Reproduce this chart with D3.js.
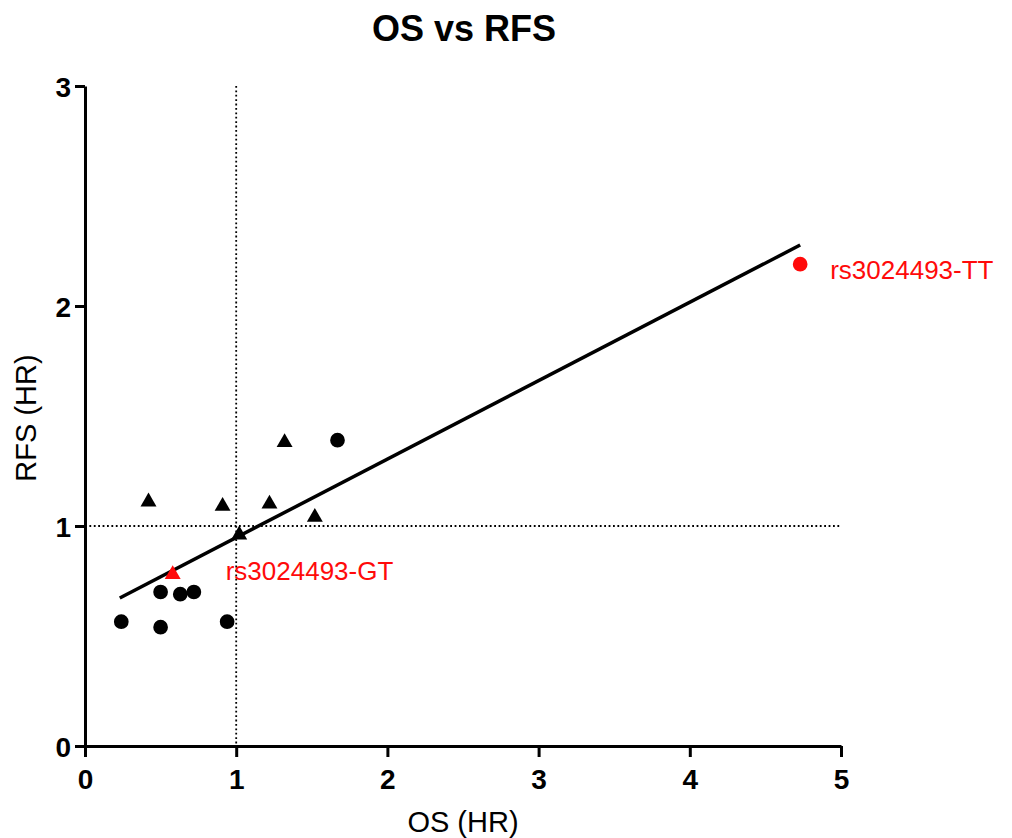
<!DOCTYPE html>
<html>
<head>
<meta charset="utf-8">
<script src="https://cdn.jsdelivr.net/npm/d3@7"></script>
<style>
  body { margin: 0; background: #fff; }
  text { font-family: Arial, "Liberation Sans", sans-serif; }
</style>
</head>
<body>
<div id="app"></div>
<script>
// circles (black)
const circleOS = [0.24, 0.50, 0.50, 0.63, 0.72, 0.94, 1.67];
const circleRFS = [0.565, 0.54, 0.70, 0.69, 0.70, 0.565, 1.39];
// triangles (black)
const triangleOS = [0.42, 0.91, 1.02, 1.22, 1.32, 1.52];
const triangleRFS = [1.11, 1.09, 0.96, 1.10, 1.38, 1.04];
// highlighted points
const highlightNames = ['rs3024493-TT', 'rs3024493-GT'];
const highlightShapes = ['circle', 'triangle'];
const highlightOS = [4.73, 0.58];
const highlightRFS = [2.19, 0.78];
// regression line end points
const fitOS = [0.23, 4.73];
const fitRFS = [0.673, 2.277];
const xTicks = [0, 1, 2, 3, 4, 5];
const yTicks = [0, 1, 2, 3];

(() => {
  const width = 1012;
  const height = 838;
  const red = '#ff0a0a';

  const svg = d3.select('#app')
    .append('svg')
    .attr('width', width)
    .attr('height', height);

  const x = d3.scaleLinear().domain([0, 5]).range([85, 841]);
  const y = d3.scaleLinear().domain([0, 3]).range([746, 86]);

  // title
  svg.append('text')
    .text('OS vs RFS')
    .attr('x', 464)
    .attr('y', 41)
    .attr('font-size', 36)
    .attr('font-weight', 'bold')
    .style('text-anchor', 'middle');

  // dotted reference lines at HR = 1
  svg.append('line')
    .attr('x1', x(1)).attr('x2', x(1))
    .attr('y1', y(3)).attr('y2', y(0))
    .style('stroke', '#000')
    .style('stroke-width', 1.8)
    .style('stroke-dasharray', '1.8,2.6');
  svg.append('line')
    .attr('x1', x(0)).attr('x2', x(5))
    .attr('y1', y(1)).attr('y2', y(1))
    .style('stroke', '#000')
    .style('stroke-width', 1.8)
    .style('stroke-dasharray', '1.8,2.6');

  // axes
  const fmt = d3.format('d');
  const xAxis = svg.append('g')
    .attr('transform', `translate(0,${y(0)})`)
    .call(d3.axisBottom(x).tickValues(xTicks).tickFormat(fmt)
      .tickSize(11).tickSizeOuter(0).tickPadding(12));
  const yAxis = svg.append('g')
    .attr('transform', `translate(${x(0)},0)`)
    .call(d3.axisLeft(y).tickValues(yTicks).tickFormat(fmt)
      .tickSize(10).tickSizeOuter(0).tickPadding(4));

  [xAxis, yAxis].forEach((g) => {
    g.select('.domain').style('stroke', '#000').style('stroke-width', 3);
    g.selectAll('.tick line').style('stroke', '#000').style('stroke-width', 3);
    g.selectAll('.tick text')
      .attr('font-size', 28)
      .attr('font-weight', 'bold')
      .attr('font-family', 'Arial, "Liberation Sans", sans-serif')
      .style('fill', '#000');
  });
  yAxis.selectAll('.tick text').attr('dy', '0.36em');

  // axis titles
  svg.append('text')
    .text('OS (HR)')
    .attr('x', 463)
    .attr('y', 832)
    .attr('font-size', 29)
    .style('text-anchor', 'middle');
  svg.append('text')
    .text('RFS (HR)')
    .attr('transform', 'translate(36,418) rotate(-90)')
    .attr('font-size', 29)
    .style('text-anchor', 'middle');

  // regression line
  svg.append('line')
    .attr('x1', x(fitOS[0])).attr('y1', y(fitRFS[0]))
    .attr('x2', x(fitOS[1])).attr('y2', y(fitRFS[1]))
    .style('stroke', '#000')
    .style('stroke-width', 3.5);

  const circleSym = d3.symbol().type(d3.symbolCircle).size(170);
  const triangleSym = d3.symbol().type(d3.symbolTriangle).size(110);

  svg.selectAll('path.circ')
    .data(d3.zip(circleOS, circleRFS))
    .enter()
    .append('path')
    .attr('class', 'circ')
    .attr('d', circleSym)
    .attr('transform', d => `translate(${x(d[0])},${y(d[1])})`)
    .style('fill', '#000');

  svg.selectAll('path.tri')
    .data(d3.zip(triangleOS, triangleRFS))
    .enter()
    .append('path')
    .attr('class', 'tri')
    .attr('d', triangleSym)
    .attr('transform', d => `translate(${x(d[0])},${y(d[1])})`)
    .style('fill', '#000');

  // highlighted SNPs
  const hl = highlightNames.map((name, i) => ({
    name, shape: highlightShapes[i], os: highlightOS[i], rfs: highlightRFS[i],
  }));

  svg.selectAll('path.hl')
    .data(hl)
    .enter()
    .append('path')
    .attr('class', 'hl')
    .attr('d', d => (d.shape === 'circle' ? circleSym() : triangleSym()))
    .attr('transform', d => `translate(${x(d.os)},${y(d.rfs)})`)
    .style('fill', red);

  svg.selectAll('text.hl')
    .data(hl)
    .enter()
    .append('text')
    .attr('class', 'hl')
    .text(d => d.name)
    .attr('x', d => x(d.os) + (d.shape === 'circle' ? 30 : 53))
    .attr('y', d => y(d.rfs) + (d.shape === 'circle' ? 15 : 6))
    .attr('font-size', 26)
    .style('fill', red);
})();
</script>
</body>
</html>
